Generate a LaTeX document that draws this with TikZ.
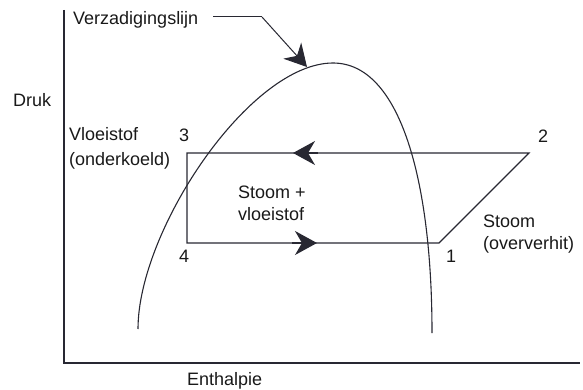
\documentclass[tikz,border=0pt]{standalone}
\usepackage{fontspec}
\setmainfont{Liberation Sans}
\usetikzlibrary{arrows.meta}
\definecolor{ink}{RGB}{40,40,50}
\definecolor{txt}{RGB}{25,25,25}
\tikzset{
  lbl/.style={anchor=base west, inner sep=0pt, text=txt, font=\fontsize{18}{25}\selectfont},
  lineink/.style={draw=ink, line width=1.2pt},
  bigtip/.style={-{Stealth[length=22pt, width=24pt, inset=7pt]}, draw=ink, line width=1.2pt, color=ink}
}
\begin{document}
\begin{tikzpicture}[x=1pt, y=-1pt]
\useasboundingbox (0,0) rectangle (583,390);
% axes
\coordinate (ytop) at (64,10);
\coordinate (orig) at (64,363);
\coordinate (xend) at (580,363);
\draw[lineink] (ytop) -- (orig) -- (xend);
% saturation dome
\coordinate (domeL) at (138,329);
\coordinate (domeTop) at (333,63);
\coordinate (domeR) at (432,333);
\draw[lineink, line width=1.1pt] (domeL) .. controls (138,230) and (250,63) .. (domeTop)
  .. controls (400,63) and (432,180) .. (domeR);
% cycle
\coordinate (p1) at (439,243);
\coordinate (p2) at (529,153);
\coordinate (p3) at (187,153);
\coordinate (p4) at (187,243);
\draw[lineink] (p4) -- (p1) -- (p2) -- (p3) -- cycle;
\coordinate (atopS) at (318,153);
\coordinate (atop) at (293,153);
\coordinate (abotS) at (292,243);
\coordinate (abot) at (317,243);
\draw[bigtip] (atopS) -- (atop);
\draw[bigtip] (abotS) -- (abot);
% labels
\node[lbl] (verz) at (73,25) {Verzadigingslijn};
\coordinate (lstart) at (213,17);
\coordinate (knee) at (262,17);
\coordinate (tip) at (307,67);
\draw[lineink, line width=1pt] (lstart) -- (knee);
\draw[bigtip, line width=1pt] (knee) -- (tip);
\node[lbl] (druk) at (13,107) {Druk};
\node[lbl] (vl) at (69,141) {Vloeistof};
\node[lbl] (ond) at (69,166) {(onderkoeld)};
\node[lbl] (n3) at (179,142) {3};
\node[lbl] (n4) at (179,262) {4};
\node[lbl] (n2) at (538,143) {2};
\node[lbl] (n1) at (446,262) {1};
\node[lbl] (sv1) at (238,198) {Stoom +};
\node[lbl] (sv2) at (238,220) {vloeistof};
\node[lbl] (st1) at (483,227) {Stoom};
\node[lbl] (st2) at (483,249) {(oververhit)};
\node[lbl] (enth) at (187,385) {Enthalpie};
\end{tikzpicture}
\end{document}
